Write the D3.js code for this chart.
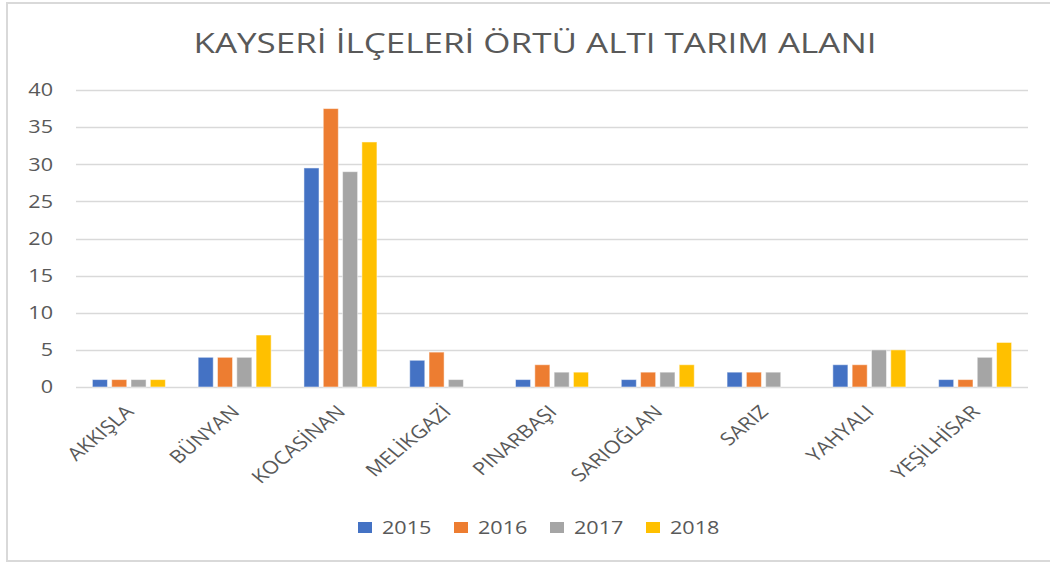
<!DOCTYPE html>
<html>
<head>
<meta charset="utf-8">
<script src="https://cdn.jsdelivr.net/npm/d3@7"></script>
<style>
  body { margin: 0; background: #fff; }
  svg { display: block; font-family: "Open Sans", "Noto Sans", sans-serif; }
</style>
</head>
<body>
<div id="chart"></div>
<script>
var districts = ["AKKIŞLA", "BÜNYAN", "KOCASİNAN", "MELİKGAZİ", "PINARBAŞI", "SARIOĞLAN", "SARIZ", "YAHYALI", "YEŞİLHİSAR"];
var years = ["2015", "2016", "2017", "2018"];
var values2015 = [1, 4, 29.5, 3.6, 1, 1, 2, 3, 1];
var values2016 = [1, 4, 37.5, 4.7, 3, 2, 2, 3, 1];
var values2017 = [1, 4, 29, 1, 2, 2, 2, 5, 4];
var values2018 = [1, 7, 33, 0, 2, 3, 0, 5, 6];
var yTicks = [0, 5, 10, 15, 20, 25, 30, 35, 40];
var colors = ["#4472C4", "#ED7D31", "#A5A5A5", "#FFC000"];

var series = [values2015, values2016, values2017, values2018];

var width = 1050, height = 562;
var margin = { top: 90, right: 22, bottom: 175, left: 76 };
var plotW = width - margin.left - margin.right,
  plotH = height - margin.top - margin.bottom;

// the original picture looks stretched sideways, so text gets a wider scale
var stretch = 1.2;

var svg = d3.select("#chart").append("svg")
  .attr("width", width)
  .attr("height", height);

// outer chart border
svg.append("rect")
  .attr("x", 7).attr("y", 3)
  .attr("width", width + 10).attr("height", 558)
  .attr("fill", "none")
  .attr("stroke", "#d9d9d9")
  .attr("stroke-width", 2);

svg.append("text")
  .attr("transform", "translate(535,53) scale(1.25,1)")
  .attr("text-anchor", "middle")
  .attr("fill", "#595959")
  .style("font-size", "28px")
  .text("KAYSERİ İLÇELERİ ÖRTÜ ALTI TARIM ALANI");

var g = svg.append("g")
  .attr("transform", "translate(" + margin.left + "," + margin.top + ")");

var x0 = d3.scaleBand().domain(districts).range([0, plotW]).paddingInner(0.31).paddingOuter(0.155);
var x1 = d3.scaleBand().domain(years).range([0, x0.bandwidth()]).paddingInner(0.22).paddingOuter(0);
var y = d3.scaleLinear().domain([0, 40]).range([plotH, 0]);

// gridlines
g.append("g").selectAll("line")
  .data(yTicks)
  .enter().append("line")
  .attr("x1", 0).attr("x2", plotW)
  .attr("y1", function(d) { return Math.round(y(d)) + 0.5; })
  .attr("y2", function(d) { return Math.round(y(d)) + 0.5; })
  .attr("stroke", "#d9d9d9")
  .attr("stroke-width", 1.5);

// y labels
g.append("g").selectAll("text")
  .data(yTicks)
  .enter().append("text")
  .attr("transform", function(d) { return "translate(-23," + y(d) + ") scale(" + stretch + ",1)"; })
  .attr("dy", "0.35em")
  .attr("text-anchor", "end")
  .attr("fill", "#595959")
  .style("font-size", "18px")
  .text(function(d) { return d; });

// bars
var groups = g.append("g").selectAll("g")
  .data(districts)
  .enter().append("g")
  .attr("transform", function(d) { return "translate(" + x0(d) + ",0)"; });

groups.selectAll("rect")
  .data(function(d, i) {
    return years.map(function(yr, j) { return { year: yr, value: series[j][i], idx: j }; });
  })
  .enter().append("rect")
  .filter(function(d) { return d.value > 0; })
  .attr("x", function(d) { return x1(d.year); })
  .attr("y", function(d) { return y(d.value); })
  .attr("width", x1.bandwidth())
  .attr("height", function(d) { return y(0) - y(d.value); })
  .attr("fill", function(d) { return colors[d.idx]; })
  .attr("stroke", "#ffffff")
  .attr("stroke-opacity", 0.5)
  .attr("stroke-width", 1);

// x labels
g.append("g").selectAll("text")
  .data(districts)
  .enter().append("text")
  .attr("transform", function(d) {
    return "translate(" + (x0(d) + x0.bandwidth() / 2 + 6) + "," + (plotH + 26) + ") scale(" + stretch + ",1) rotate(-45)";
  })
  .attr("text-anchor", "end")
  .attr("fill", "#595959")
  .style("font-size", "18px")
  .text(function(d) { return d; });

// legend
var legend = svg.append("g").selectAll("g")
  .data(years)
  .enter().append("g")
  .attr("transform", function(d, i) { return "translate(" + (358 + i * 96) + ",522)"; });

legend.append("rect")
  .attr("width", 14).attr("height", 11)
  .attr("fill", function(d, i) { return colors[i]; });

legend.append("text")
  .attr("transform", "translate(24,6) scale(" + stretch + ",1)")
  .attr("dy", "0.35em")
  .attr("fill", "#595959")
  .style("font-size", "18px")
  .text(function(d) { return d; });
</script>
</body>
</html>
